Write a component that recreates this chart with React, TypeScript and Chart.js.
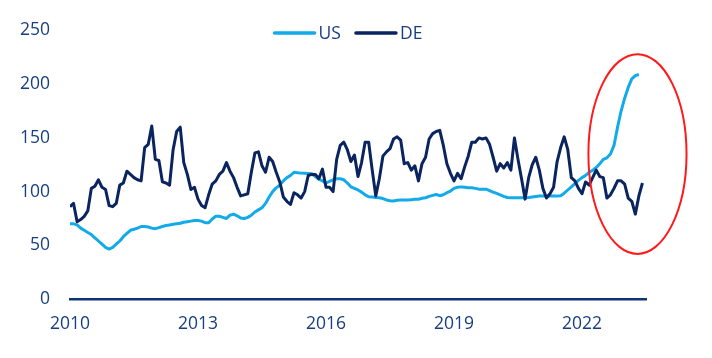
import React, { useEffect, useRef } from 'react';
import { Chart, registerables } from 'chart.js';

Chart.register(...registerables);

const START_YEAR = 2010;
const X_MIN = 2010;
const X_MAX = 2023.5;
const X_STEP = 3;
const Y_MIN = 0;
const Y_MAX = 250;
const Y_STEP = 50;
const SERIES_NAMES = ['US', 'DE'];

// Monthly values from Jan 2010
const US = [
  70, 70, 69, 66, 64, 62, 60, 57, 54, 51, 48, 46.5,
  48, 51, 54, 58, 61, 64, 65, 66, 67.5, 67.5, 67, 66,
  65.5, 66.5, 67.5, 68.5, 69, 69.5, 70, 70.5, 71.5, 72, 72.5, 73,
  73, 72.5, 71, 71, 74.5, 77, 77, 76, 75, 78, 79, 77.5,
  75.5, 75, 76, 78, 81, 83, 85, 89, 95, 100, 103.5, 106,
  110, 113, 115, 118, 117.5, 117.2, 117, 116.8, 116.6, 114, 111.5, 110,
  108, 109.5, 111, 112, 112, 111, 108, 104.5, 103, 101.5, 99.5, 97,
  95.2, 95, 94.6, 94.3, 93.5, 92.2, 91.5, 91.3, 92, 92.2, 92.2, 92.2,
  92.5, 92.8, 92.8, 93.8, 94.3, 95.5, 96.5, 97.3, 96.2, 97, 99, 100.5,
  103, 104, 104.4, 104, 103.5, 103.5, 103, 102.3, 102.3, 102.3, 101, 99.5,
  98.3, 97, 95.5, 94.5, 94.3, 94.3, 94.3, 94.3, 94.3, 94.5, 95, 95.5,
  95.8, 95.8, 95.8, 95.8, 95.8, 96, 96.2, 98.5, 101.5, 104.4, 107.5, 110.5,
  113, 115, 118, 119.7, 122.5, 126, 130, 131.5, 135, 143, 160, 175,
  187, 197, 205, 208, 209,
];

const DE = [
  86, 89, 72, 74, 77, 82, 103, 105, 111, 104, 102, 87,
  86, 89, 106, 108, 119, 116, 113, 111, 110, 141, 144, 161,
  130, 129, 109, 108, 106, 139, 156, 160, 127, 116, 102, 104,
  93, 87, 85, 97, 107, 110, 116, 119, 127, 119, 113, 104,
  96, 97, 98, 118, 136, 137, 124, 118, 132, 128, 118, 109,
  95, 91, 88, 99, 97, 94, 100, 115, 116, 116, 112, 121,
  104, 104, 100, 130, 143, 146, 139, 128, 134, 114, 127, 146,
  146, 120, 96, 112, 133, 137, 140, 149, 151, 148, 126, 127,
  120, 124, 110, 126, 132, 149, 154, 156, 157, 143, 126, 117,
  110, 117, 112, 123, 133, 146, 146, 150, 149, 150, 144, 132,
  119, 126, 122, 127, 120, 150, 130, 112, 93, 113, 125, 132,
  120, 103, 94, 98, 104, 128, 141, 151, 139, 113, 110, 103,
  98, 109, 106, 113, 120, 114, 113, 94, 97, 103, 110, 110,
  107, 94, 91, 79, 96, 108,
];

// Highlight ellipse bounds (in data units)
const HIGHLIGHT_X = [2022.15, 2024.45];
const HIGHLIGHT_Y = [42, 228];

const TEXT_COLOR = '#173f80';
const AXIS_COLOR = '#0e3476';
const US_COLOR = '#12aae8';
const DE_COLOR = '#0a2460';
const FONT_FAMILY = '"Open Sans", Lato, sans-serif';
const FONT_SIZE = 17.5;

const toPoints = (arr: number[]) => arr.map((v, i) => ({ x: START_YEAR + i / 12, y: v }));

const overlayPlugin = {
  id: 'overlay',
  afterDraw(chart: any) {
    const { ctx } = chart;
    const xs = chart.scales.x;
    const ys = chart.scales.y;
    const l = xs.getPixelForValue(HIGHLIGHT_X[0]);
    const r = xs.getPixelForValue(HIGHLIGHT_X[1]);
    const t = ys.getPixelForValue(HIGHLIGHT_Y[1]);
    const b = ys.getPixelForValue(HIGHLIGHT_Y[0]);
    ctx.save();
    ctx.beginPath();
    ctx.ellipse((l + r) / 2, (t + b) / 2, (r - l) / 2, (b - t) / 2, 0, 0, Math.PI * 2);
    ctx.strokeStyle = '#ff1a1a';
    ctx.lineWidth = 2;
    ctx.stroke();

    // legend
    ctx.font = `${FONT_SIZE}px ${FONT_FAMILY}`;
    ctx.textBaseline = 'middle';
    ctx.textAlign = 'left';
    const lineLen = 40;
    const gapText = 4;
    const gapItem = 15;
    const items = chart.data.datasets.map((ds: any) => ({
      label: ds.label,
      color: ds.borderColor,
      w: ctx.measureText(ds.label).width,
    }));
    const total =
      items.reduce((s: number, it: any) => s + lineLen + gapText + it.w, 0) + gapItem * (items.length - 1);
    const centerX = 348.5;
    const ly = 33;
    let cx = centerX - total / 2;
    items.forEach((it: any) => {
      ctx.beginPath();
      ctx.moveTo(cx, ly);
      ctx.lineTo(cx + lineLen, ly);
      ctx.strokeStyle = it.color;
      ctx.lineWidth = 3.5;
      ctx.lineCap = 'round';
      ctx.stroke();
      cx += lineLen + gapText;
      ctx.fillStyle = TEXT_COLOR;
      ctx.fillText(it.label, cx, ly + 1);
      cx += it.w + gapItem;
    });
    ctx.restore();
  },
};

export default function App() {
  const ref = useRef<HTMLCanvasElement | null>(null);

  useEffect(() => {
    if (!ref.current) return;
    const chart = new Chart(ref.current, {
      type: 'line',
      data: {
        datasets: [
          {
            label: SERIES_NAMES[0],
            data: toPoints(US),
            borderColor: US_COLOR,
            backgroundColor: US_COLOR,
            borderWidth: 3,
            pointRadius: 0,
            tension: 0,
            order: 1,
            borderJoinStyle: 'round',
          },
          {
            label: SERIES_NAMES[1],
            data: toPoints(DE),
            borderColor: DE_COLOR,
            backgroundColor: DE_COLOR,
            borderWidth: 3,
            pointRadius: 0,
            tension: 0,
            order: 0,
            borderJoinStyle: 'round',
          },
        ],
      },
      options: {
        animation: false,
        responsive: false,
        maintainAspectRatio: false,
        layout: { padding: { left: 0, right: 66, top: 26.5, bottom: 0 } },
        plugins: {
          legend: { display: false },
          tooltip: { enabled: false },
        },
        scales: {
          x: {
            type: 'linear',
            min: X_MIN,
            max: X_MAX,
            grid: { display: false, drawTicks: false },
            border: { display: true, color: AXIS_COLOR, width: 2.5 },
            ticks: {
              stepSize: X_STEP,
              includeBounds: false,
              padding: 15,
              color: TEXT_COLOR,
              font: { family: FONT_FAMILY, size: FONT_SIZE },
              maxRotation: 0,
              callback: (v: any) => String(v),
            },
            afterFit: (s: any) => {
              s.height = 59;
            },
          },
          y: {
            min: Y_MIN,
            max: Y_MAX,
            grid: { display: false, drawTicks: false },
            border: { display: false },
            ticks: {
              stepSize: Y_STEP,
              padding: 20,
              color: TEXT_COLOR,
              font: { family: FONT_FAMILY, size: FONT_SIZE },
            },
            afterFit: (s: any) => {
              s.width = 70;
            },
          },
        },
      },
      plugins: [overlayPlugin],
    });
    return () => chart.destroy();
  }, []);

  return (
    <div style={{ position: 'fixed', left: 0, top: 0, width: 712, height: 358, background: '#fff' }}>
      <canvas ref={ref} width={712} height={358} style={{ display: 'block', width: 712, height: 358 }} />
    </div>
  );
}
